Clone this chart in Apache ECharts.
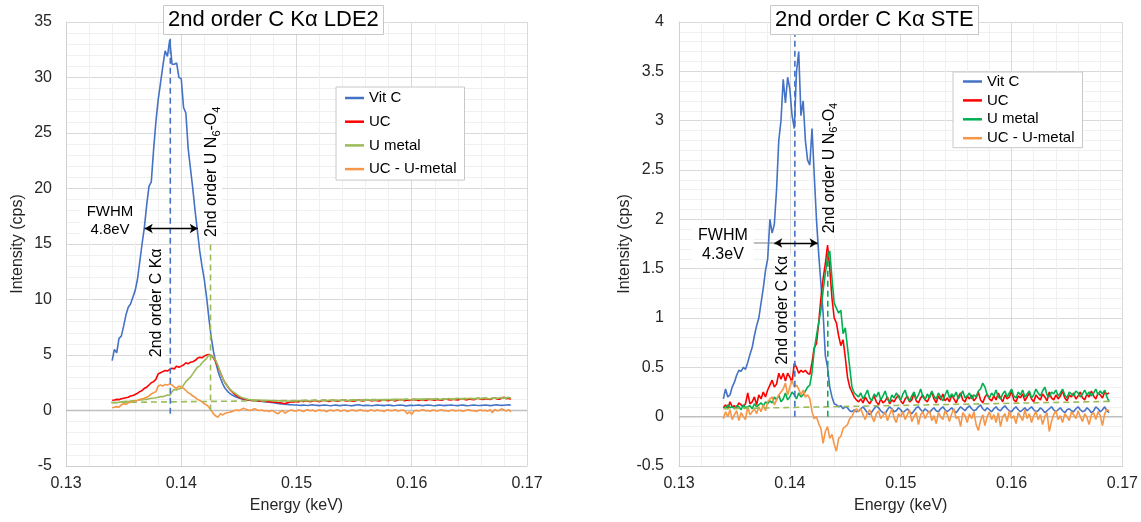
<!DOCTYPE html>
<html><head><meta charset="utf-8">
<script src="https://cdn.jsdelivr.net/npm/echarts@6/dist/echarts.min.js"></script>
<style>html,body{margin:0;padding:0;background:#fff}#c{width:1141px;height:522px}</style>
</head><body><div id="c"></div>
<script>
// ---------- shared energy grid (keV) ----------
const energy = [
0.1340,0.1342,0.1344,0.1346,0.1348,0.1350,0.1352,0.1354,0.1356,0.1358,
0.1360,0.1362,0.1364,0.1366,0.1368,0.1370,0.1372,0.1374,0.1376,0.1378,
0.1380,0.1382,0.1384,0.1386,0.1388,0.1390,0.1392,0.1394,0.1396,0.1398,
0.1400,0.1402,0.1404,0.1406,0.1408,0.1410,0.1412,0.1414,0.1416,0.1418,
0.1420,0.1422,0.1424,0.1426,0.1428,0.1430,0.1432,0.1434,0.1436,0.1438,
0.1440,0.1442,0.1444,0.1446,0.1448,0.1450,0.1452,0.1454,0.1456,0.1458,
0.1460,0.1462,0.1464,0.1466,0.1468,0.1470,0.1472,0.1474,0.1476,0.1478,
0.1480,0.1482,0.1484,0.1486,0.1488,0.1490,0.1492,0.1494,0.1496,0.1498,
0.1500,0.1502,0.1504,0.1506,0.1508,0.1510,0.1512,0.1514,0.1516,0.1518,
0.1520,0.1522,0.1524,0.1526,0.1528,0.1530,0.1532,0.1534,0.1536,0.1538,
0.1540,0.1542,0.1544,0.1546,0.1548,0.1550,0.1552,0.1554,0.1556,0.1558,
0.1560,0.1562,0.1564,0.1566,0.1568,0.1570,0.1572,0.1574,0.1576,0.1578,
0.1580,0.1582,0.1584,0.1586,0.1588,0.1590,0.1592,0.1594,0.1596,0.1598,
0.1600,0.1602,0.1604,0.1606,0.1608,0.1610,0.1612,0.1614,0.1616,0.1618,
0.1620,0.1622,0.1624,0.1626,0.1628,0.1630,0.1632,0.1634,0.1636,0.1638,
0.1640,0.1642,0.1644,0.1646,0.1648,0.1650,0.1652,0.1654,0.1656,0.1658,
0.1660,0.1662,0.1664,0.1666,0.1668,0.1670,0.1672,0.1674,0.1676,0.1678,
0.1680,0.1682,0.1684,0.1686,0.1688];

const seriesNames = ['Vit C', 'UC', 'U metal', 'UC - U-metal'];
const titles = ['2nd order C K\u03b1 LDE2', '2nd order C K\u03b1 STE'];
const xTickLabels = ['0.13', '0.14', '0.15', '0.16', '0.17'];
const leftYTicks = [-5, 0, 5, 10, 15, 20, 25, 30, 35];
const rightYTicks = [-0.5, 0, 0.5, 1, 1.5, 2, 2.5, 3, 3.5, 4];

// ---------- LDE2 (left) ----------
const lVitC = [
4.5,5.5,5.2,6.5,6.7,7.6,8.6,9.3,9.6,10.2,
10.8,11.8,13.4,15.0,16.5,18.5,20.2,20.6,23.5,26.0,
28.0,29.5,31.0,32.4,31.9,33.4,31.2,31.2,31.3,30.0,
29.9,27.3,26.8,23.6,21.8,20.0,18.0,16.2,14.4,13.0,
11.8,10.2,8.3,6.6,5.3,4.3,3.5,2.9,2.4,2.0,
1.75,1.55,1.4,1.3,1.2,1.12,1.05,1.0,0.98,0.95,
0.93,0.9,0.88,0.86,0.85,0.82,0.8,0.78,0.76,0.72,
0.7,0.66,0.63,0.6,0.58,0.56,0.55,0.53,0.52,0.5,
0.5,0.48,0.46,0.5,0.47,0.45,0.49,0.52,0.48,0.46,
0.44,0.47,0.5,0.48,0.45,0.43,0.47,0.49,0.46,0.44,
0.48,0.5,0.47,0.45,0.42,0.46,0.49,0.51,0.47,0.44,
0.46,0.48,0.45,0.43,0.47,0.5,0.48,0.46,0.44,0.47,
0.49,0.46,0.43,0.45,0.48,0.5,0.47,0.44,0.42,0.46,
0.48,0.45,0.47,0.49,0.46,0.44,0.47,0.5,0.48,0.45,
0.43,0.46,0.49,0.47,0.44,0.46,0.48,0.5,0.47,0.45,
0.44,0.47,0.49,0.46,0.43,0.45,0.48,0.5,0.47,0.45,
0.46,0.48,0.5,0.47,0.44,0.46,0.49,0.51,0.48,0.46,
0.47,0.5,0.52,0.48];
const lUC = [
0.93,0.95,1.0,0.98,1.05,1.1,1.15,1.2,1.3,1.35,
1.45,1.55,1.7,1.8,2.0,2.1,2.3,2.5,2.6,2.8,
3.3,3.4,3.5,3.6,3.55,3.7,3.8,3.75,4.0,3.9,
4.0,4.1,4.3,4.2,4.35,4.4,4.5,4.7,4.8,4.75,
4.9,5.0,5.05,4.95,4.7,4.4,3.9,3.4,2.9,2.5,
2.2,1.9,1.7,1.5,1.35,1.2,1.12,1.05,1.0,0.95,
0.92,0.9,0.9,0.88,0.86,0.85,0.84,0.82,0.8,0.78,
0.78,0.75,0.72,0.7,0.65,0.6,0.7,0.75,0.8,0.78,
0.82,0.78,0.85,0.8,0.88,0.83,0.79,0.86,0.9,0.84,
0.8,0.87,0.92,0.85,0.82,0.89,0.93,0.86,0.84,0.9,
0.95,0.88,0.85,0.91,0.87,0.83,0.9,0.94,0.89,0.86,
0.92,0.96,0.9,0.87,0.93,0.89,0.85,0.92,0.97,0.9,
0.88,0.94,0.91,0.87,0.95,0.99,0.92,0.89,0.94,0.9,
0.96,1.0,0.93,0.9,0.97,0.94,0.91,0.98,1.02,0.95,
0.92,0.99,0.95,0.93,1.0,1.04,0.97,0.94,1.01,0.98,
0.95,1.02,1.06,0.99,0.96,1.03,1.0,0.97,1.05,1.1,
1.02,0.99,1.06,1.03,1.0,1.08,1.15,1.04,1.01,1.12,
1.2,1.06,1.1,1.02];
const lUmetal = [
0.7,0.72,0.7,0.75,0.78,0.8,0.82,0.8,0.85,0.88,
0.9,0.92,0.95,0.95,1.0,1.0,1.05,1.1,1.12,1.15,
1.2,1.25,1.25,1.3,1.4,1.35,1.7,1.9,1.85,1.95,
2.0,2.3,2.6,2.8,3.0,3.3,3.6,3.9,4.0,4.3,
4.5,4.7,5.0,4.9,4.8,4.5,4.0,3.4,2.9,2.5,
2.2,1.95,1.75,1.6,1.45,1.3,1.2,1.12,1.05,1.0,
0.98,0.97,0.95,0.95,0.94,0.93,0.92,0.92,0.9,0.9,
0.89,0.88,0.88,0.87,0.87,0.86,0.86,0.85,0.86,0.87,
0.86,0.9,0.84,0.88,0.92,0.87,0.85,0.9,0.94,0.88,
0.86,0.92,0.89,0.85,0.91,0.95,0.9,0.87,0.93,0.89,
0.92,0.96,0.9,0.88,0.94,0.91,0.97,0.93,0.89,0.95,
0.92,0.98,0.94,0.9,0.96,0.93,0.99,0.95,0.91,0.97,
1.0,0.94,0.92,0.98,1.02,0.96,0.93,0.99,1.03,0.97,
0.95,1.01,0.98,1.04,1.0,0.96,1.02,1.06,1.0,0.97,
1.03,1.07,1.01,0.99,1.05,1.02,1.08,1.04,1.0,1.06,
1.1,1.04,1.02,1.08,1.05,1.11,1.07,1.03,1.09,1.12,
1.06,1.1,1.14,1.08,1.05,1.11,1.15,1.09,1.13,1.17,
1.1,1.14,1.18,1.12];
const lDiff = [
0.25,0.3,0.35,0.3,0.5,0.6,0.55,0.7,0.75,0.8,
0.85,0.9,1.0,1.05,1.1,1.2,1.3,1.5,1.6,1.7,
2.2,2.3,2.2,2.35,2.3,2.4,2.3,2.1,2.0,2.2,
2.1,2.0,1.8,1.6,1.5,1.3,1.2,1.0,0.9,0.8,
0.6,0.5,0.3,0.0,-0.3,-0.5,-0.6,-0.3,-0.4,-0.25,
-0.2,-0.15,-0.1,0.0,0.05,0.0,0.1,0.2,0.1,0.05,
0.0,0.1,0.15,0.05,0.0,0.05,-0.05,0.0,-0.1,0.0,
-0.05,-0.2,-0.3,-0.1,0.0,-0.25,-0.1,0.0,0.05,-0.05,
-0.05,0.05,0.0,-0.1,0.02,0.08,-0.03,0.04,-0.08,0.0,
0.06,-0.02,0.03,-0.12,0.0,0.05,-0.04,0.02,0.07,-0.06,
0.0,0.04,-0.1,-0.02,0.05,0.01,-0.05,0.03,0.08,-0.03,
0.0,-0.08,0.04,0.02,-0.04,0.06,-0.02,0.0,-0.1,0.03,
0.05,-0.03,0.01,0.07,-0.05,0.0,0.04,-0.02,-0.3,-0.12,
-0.35,-0.05,0.03,-0.04,0.02,0.06,-0.03,0.0,-0.07,0.04,
0.01,-0.05,0.03,0.07,-0.02,0.0,-0.06,0.02,0.05,-0.04,
0.0,0.03,-0.08,-0.01,0.04,0.06,-0.03,0.0,-0.1,0.02,
0.05,-0.02,0.03,-0.06,0.08,-0.2,0.1,-0.03,0.02,0.15,
0.05,-0.05,0.08,-0.12];

// ---------- STE (right) ----------
const rVitC = [
0.18,0.28,0.2,0.22,0.3,0.35,0.42,0.47,0.46,0.5,
0.48,0.55,0.63,0.7,0.82,0.92,1.0,1.15,1.3,1.48,
1.6,2.0,1.86,1.95,2.3,2.8,3.0,3.42,3.18,3.44,
3.32,3.05,2.92,3.5,3.7,3.05,3.2,2.8,2.6,2.55,
2.92,2.45,2.0,1.65,1.35,1.05,0.62,0.5,0.3,0.2,
0.13,0.12,0.1,0.11,0.08,0.1,0.09,0.06,0.05,0.07,0.05,
0.06,0.08,0.1,0.07,0.04,0.02,0.05,0.08,0.11,0.09,
0.06,0.04,0.03,0.07,0.1,0.08,0.05,0.06,0.09,0.07,
0.04,0.06,0.08,0.05,0.03,0.06,0.09,0.1,0.07,0.05,
0.08,0.06,0.04,0.07,0.09,0.06,0.05,0.08,0.1,0.07,
0.05,0.07,0.09,0.06,0.04,0.07,0.1,0.08,0.06,0.09,
0.11,0.08,0.06,0.07,0.1,0.12,0.08,0.06,0.09,0.07,
0.05,0.08,0.1,0.07,0.06,0.09,0.11,0.08,0.06,0.05,
0.08,0.1,0.07,0.05,0.07,0.09,0.06,0.08,0.1,0.07,
0.05,0.06,0.09,0.07,0.04,0.06,0.08,0.1,0.07,0.05,
0.07,0.09,0.06,0.04,0.07,0.08,0.06,0.05,0.08,0.1,
0.07,0.05,0.06,0.09,0.07,0.04,0.06,0.1,0.08,0.05,
0.07,0.1,0.06,0.04];
const rUC = [
0.09,0.12,0.08,0.15,0.1,0.11,0.09,0.14,0.12,0.1,
0.13,0.24,0.13,0.15,0.2,0.12,0.22,0.18,0.25,0.2,
0.27,0.32,0.37,0.3,0.33,0.44,0.38,0.44,0.36,0.44,
0.4,0.35,0.54,0.5,0.44,0.47,0.45,0.47,0.44,0.43,
0.55,0.7,0.74,0.95,1.2,1.4,1.55,1.74,1.5,1.2,
1.0,0.95,0.82,0.72,0.78,0.6,0.4,0.3,0.25,0.2,0.17,
0.15,0.18,0.14,0.2,0.16,0.13,0.17,0.21,0.15,0.12,
0.18,0.14,0.16,0.2,0.13,0.17,0.15,0.19,0.22,0.16,
0.13,0.18,0.21,0.15,0.17,0.24,0.16,0.14,0.19,0.22,
0.17,0.15,0.2,0.25,0.18,0.14,0.21,0.17,0.23,0.16,
0.19,0.15,0.22,0.18,0.14,0.2,0.24,0.17,0.15,0.21,
0.18,0.22,0.16,0.19,0.25,0.17,0.14,0.2,0.23,0.18,
0.16,0.21,0.17,0.24,0.19,0.15,0.22,0.18,0.2,0.26,
0.17,0.15,0.21,0.19,0.23,0.16,0.2,0.24,0.18,0.15,
0.22,0.19,0.17,0.23,0.2,0.16,0.25,0.19,0.17,0.22,
0.18,0.21,0.26,0.19,0.16,0.22,0.2,0.24,0.18,0.21,
0.25,0.19,0.17,0.23,0.2,0.26,0.21,0.18,0.24,0.22,
0.19,0.25,0.23,0.24];
const rUmetal = [
0.1,0.08,0.12,0.09,0.1,0.08,0.11,0.1,0.07,0.12,
0.09,0.1,0.11,0.08,0.13,0.1,0.12,0.14,0.11,0.15,
0.13,0.16,0.14,0.2,0.17,0.22,0.15,0.18,0.24,0.17,
0.2,0.25,0.22,0.18,0.24,0.2,0.22,0.26,0.3,0.32,
0.45,0.68,0.82,0.95,1.08,1.28,1.45,1.62,1.68,1.4,
1.15,1.1,1.05,1.08,0.84,0.9,0.7,0.5,0.3,0.24,0.22,
0.2,0.24,0.18,0.22,0.27,0.19,0.16,0.23,0.2,0.25,
0.17,0.21,0.26,0.18,0.15,0.22,0.19,0.24,0.2,0.17,
0.23,0.27,0.19,0.16,0.21,0.25,0.18,0.22,0.28,0.2,
0.17,0.23,0.19,0.26,0.21,0.18,0.24,0.2,0.16,0.22,
0.27,0.19,0.23,0.2,0.25,0.18,0.22,0.26,0.19,0.21,
0.24,0.18,0.22,0.2,0.26,0.28,0.34,0.3,0.22,0.19,
0.24,0.21,0.27,0.2,0.18,0.23,0.26,0.2,0.24,0.28,
0.21,0.19,0.25,0.22,0.27,0.2,0.23,0.26,0.19,0.22,
0.28,0.24,0.21,0.26,0.3,0.22,0.2,0.25,0.23,0.27,
0.21,0.24,0.28,0.22,0.19,0.25,0.23,0.21,0.26,0.24,
0.2,0.23,0.27,0.22,0.25,0.21,0.24,0.28,0.22,0.26,
0.23,0.27,0.2,0.15];
const rDiff = [
-0.02,0.05,0.0,0.07,-0.03,0.02,0.06,-0.04,0.04,0.0,
-0.03,0.1,0.02,0.05,0.08,0.03,0.1,0.05,0.12,0.06,
0.15,0.18,0.2,0.12,0.17,0.22,0.25,0.28,0.34,0.22,
0.3,0.37,0.3,0.32,0.28,0.22,0.27,0.2,0.22,0.18,
0.05,-0.02,0.0,-0.07,-0.12,-0.27,-0.15,-0.1,-0.22,-0.18,
-0.28,-0.35,-0.22,-0.2,-0.12,-0.1,-0.08,-0.02,0.0,0.05,0.08,
0.05,0.08,0.02,-0.03,0.04,0.07,0.0,-0.05,0.03,0.06,
-0.02,0.01,0.05,-0.04,0.02,0.08,-0.01,-0.06,0.03,0.0,
0.05,-0.03,0.02,0.07,-0.05,0.0,0.04,-0.08,0.02,0.05,
-0.02,0.03,0.06,-0.04,0.01,-0.07,0.04,0.0,-0.03,0.06,
0.02,-0.05,0.03,0.08,-0.02,0.0,-0.1,0.04,0.01,-0.06,
0.03,-0.02,0.05,-0.08,-0.14,-0.04,0.02,-0.09,0.0,0.05,
-0.03,0.02,-0.06,0.04,-0.1,0.0,0.03,-0.05,0.06,-0.02,
0.01,-0.07,0.04,0.0,-0.04,0.07,-0.02,0.03,-0.06,0.01,
0.05,-0.03,0.02,-0.08,0.0,0.04,-0.15,-0.05,0.02,0.06,
-0.03,0.01,-0.06,0.03,0.0,-0.04,0.05,0.02,-0.02,0.06,
0.0,-0.05,0.03,-0.01,-0.08,0.02,0.04,-0.03,0.05,0.01,
-0.09,0.03,0.07,0.06];

// ---------- annotation anchors (data coordinates) ----------
const lPeakLine = [[0.13905, -0.3], [0.13905, 33.5]];
const lUNLine = [[0.14254, 0], [0.14254, 15.2]];
const lBase = [[0.1339, 0.72], [0.1686, 1.12]];
const lFwhm = {x1: 0.13683, x2: 0.14143, y: 16.4, width: '4.8eV'};
const rPeakLine = [[0.14045, 0], [0.14045, 4.0]];
const rUNLine = [[0.14342, 0], [0.14342, 1.68]];
const rBase = [[0.1340, 0.08], [0.1690, 0.155]];
const rFwhm = {x1: 0.13859, x2: 0.14250, y: 1.76, width: '4.3eV'};
const rLeader = [[0.13655, 1.76], [0.13859, 1.76]];

const colors = {
  left: ['#4472C4', '#FF0000', '#9BBB59', '#F79646'],
  right: ['#4472C4', '#FF0000', '#00B050', '#F79646']
};

const FONT = "'Liberation Sans', Arial, sans-serif";
const TXT = '#262626';
const chart = echarts.init(document.getElementById('c'), null, {renderer: 'canvas'});
const pairs = vals => vals.map((v, i) => [energy[i], v]);

function xAxis(gi) {
  return {
    gridIndex: gi, type: 'value', min: 0.13, max: 0.17, interval: 0.01,
    name: 'Energy (keV)', nameLocation: 'middle', nameGap: 32,
    nameTextStyle: {fontSize: 16, color: TXT, fontFamily: FONT},
    axisLine: {show: true, onZero: false, lineStyle: {color: '#d0d0d0'}},
    axisTick: {show: false},
    axisLabel: {fontSize: 16, color: TXT, fontFamily: FONT, margin: 10,
      formatter: v => xTickLabels[Math.round((v - 0.13) / 0.01)]},
    splitLine: {show: true, lineStyle: {color: '#d9d9d9'}},
    minorTick: {show: false, splitNumber: 5},
    minorSplitLine: {show: true, lineStyle: {color: '#f0f0f0'}}
  };
}
function yAxis(gi, ticks, gap, margin) {
  const step = ticks[1] - ticks[0];
  return {
    gridIndex: gi, type: 'value', min: ticks[0], max: ticks[ticks.length - 1], interval: step,
    name: 'Intensity (cps)', nameLocation: 'middle', nameGap: gap,
    nameTextStyle: {fontSize: 16, color: TXT, fontFamily: FONT},
    axisLine: {show: true, lineStyle: {color: '#d0d0d0'}},
    axisTick: {show: false},
    axisLabel: {fontSize: 16, color: TXT, fontFamily: FONT, margin: margin,
      formatter: v => String(ticks[Math.round((v - ticks[0]) / step)])},
    splitLine: {show: true, lineStyle: {color: '#d9d9d9'}},
    minorTick: {show: false, splitNumber: 5},
    minorSplitLine: {show: true, lineStyle: {color: '#f0f0f0'}}
  };
}
function dataLine(name, gi, vals, color) {
  return {name, type: 'line', xAxisIndex: gi, yAxisIndex: gi, data: pairs(vals),
    symbol: 'none', showSymbol: false, silent: true, z: 3,
    lineStyle: {color, width: 1.6}, itemStyle: {color}};
}
function plainLine(gi, pts, color, type, width, z) {
  return {type: 'line', xAxisIndex: gi, yAxisIndex: gi, data: pts, symbol: 'none',
    silent: true, z: z, lineStyle: {color, width, type}, itemStyle: {color}};
}
function arrowLine(gi, f) {
  return {type: 'line', xAxisIndex: gi, yAxisIndex: gi, data: [[f.x1, f.y], [f.x2, f.y]],
    symbol: 'none', silent: true, z: 6, lineStyle: {opacity: 0},
    markLine: {silent: true, symbol: ['arrow', 'arrow'], symbolSize: [7, 8],
      label: {show: false}, emphasis: {disabled: true}, animation: false,
      lineStyle: {color: '#000', type: 'solid', width: 1.3},
      data: [[{coord: [f.x1, f.y]}, {coord: [f.x2, f.y]}]]}};
}
function legend(side, left, top, gap, pad) {
  return {
    orient: 'vertical', left, top, itemGap: gap, padding: pad,
    backgroundColor: '#fff', borderColor: '#c8c8c8', borderWidth: 1, borderRadius: 0,
    icon: 'rect', itemWidth: 19, itemHeight: 2.5, selectedMode: false,
    textStyle: {fontSize: 15, color: '#000', fontFamily: FONT, lineHeight: 15},
    data: seriesNames.map((n, i) => ({name: n, itemStyle: {color: colors[side][i]}}))
  };
}
function titleBox(text, left) {
  return {text, left, top: 5, padding: [3, 5, 3, 5], backgroundColor: '#fff',
    borderColor: '#c8c8c8', borderWidth: 1,
    textStyle: {fontSize: 22, fontWeight: 'normal', color: '#000', fontFamily: FONT, lineHeight: 24}};
}

const series = [];
[['left', 0, [lVitC, lUC, lUmetal, lDiff]], ['right', 1, [rVitC, rUC, rUmetal, rDiff]]].forEach(([side, gi, arrs]) => {
  series.push(plainLine(gi, [[0.13, 0], [0.17, 0]], '#bfbfbf', 'solid', 1.5, 1));
  arrs.forEach((a, i) => series.push(dataLine(seriesNames[i], gi, a, colors[side][i])));
});
series.push(plainLine(0, lBase, '#9BBB59', [6, 4], 1.6, 4));
series.push(plainLine(0, lPeakLine, '#4472C4', [6, 4], 1.6, 4));
series.push(plainLine(0, lUNLine, '#9BBB59', [6, 4], 1.6, 4));
series.push(arrowLine(0, lFwhm));
series.push(plainLine(1, rBase, '#9BBB59', [6, 4], 1.6, 4));
series.push(plainLine(1, rPeakLine, '#4472C4', [6, 4], 1.6, 4));
series.push(plainLine(1, rUNLine, '#00B050', [6, 4], 1.6, 4));
series.push(plainLine(1, rLeader, '#7f7f7f', 'solid', 1, 5));
series.push(arrowLine(1, rFwhm));

chart.setOption({
  animation: false,
  backgroundColor: '#fff',
  textStyle: {fontFamily: FONT},
  title: [titleBox(titles[0], 163), titleBox(titles[1], 770)],
  legend: [legend('left', 336, 87, 8.7, [3.5, 8, 3.5, 9]), legend('right', 953, 72, 3.9, [2, 8, 2, 10])],
  grid: [
    {left: 66, right: 614, top: 22, bottom: 56},
    {left: 679, right: 18, top: 22, bottom: 56}
  ],
  xAxis: [xAxis(0), xAxis(1)],
  yAxis: [yAxis(0, leftYTicks, 40, 14), yAxis(1, rightYTicks, 45, 15)],
  series
});

// ---------- text annotations placed from data coordinates ----------
const px = (gi, pt) => chart.convertToPixel({gridIndex: gi}, pt);
const graphics = [];
const rich = {b: {fontSize: 16, fontFamily: FONT, fill: '#000'},
              s: {fontSize: 11, fontFamily: FONT, fill: '#000', padding: [9, 0, 0, 0]}};
function vText(gi, pt, text) {
  const p = px(gi, pt);
  graphics.push({type: 'text', x: p[0], y: p[1], rotation: Math.PI / 2, z: 20, silent: true,
    style: {text, rich, fontSize: 16, fontFamily: FONT, fill: '#000', align: 'center',
      verticalAlign: 'middle', backgroundColor: '#fff', padding: [0, 2]}});
}
function fwhmText(gi, pt, width, size) {
  const p = px(gi, pt);
  graphics.push({type: 'text', x: p[0], y: p[1], z: 20, silent: true,
    style: {text: 'FWHM\n' + width, fontSize: size, fontFamily: FONT, fill: '#000',
      align: 'center', verticalAlign: 'middle', lineHeight: size + 3,
      backgroundColor: '#fff', padding: [3, 6]}});
}
vText(0, [0.1379, 9.7], '{b|2nd order C K\u03b1}');
vText(0, [0.14267, 21.5], '{b|2nd order U N}{s|6}{b|-O}{s|4}');
fwhmText(0, [0.13382, 17.1], lFwhm.width, 15);
vText(1, [0.13937, 1.08], '{b|2nd order C K\u03b1}');
vText(1, [0.14360, 2.52], '{b|2nd order U N}{s|6}{b|-O}{s|4}');
fwhmText(1, [0.13396, 1.735], rFwhm.width, 16);
chart.setOption({graphic: graphics});
</script>
</body></html>
